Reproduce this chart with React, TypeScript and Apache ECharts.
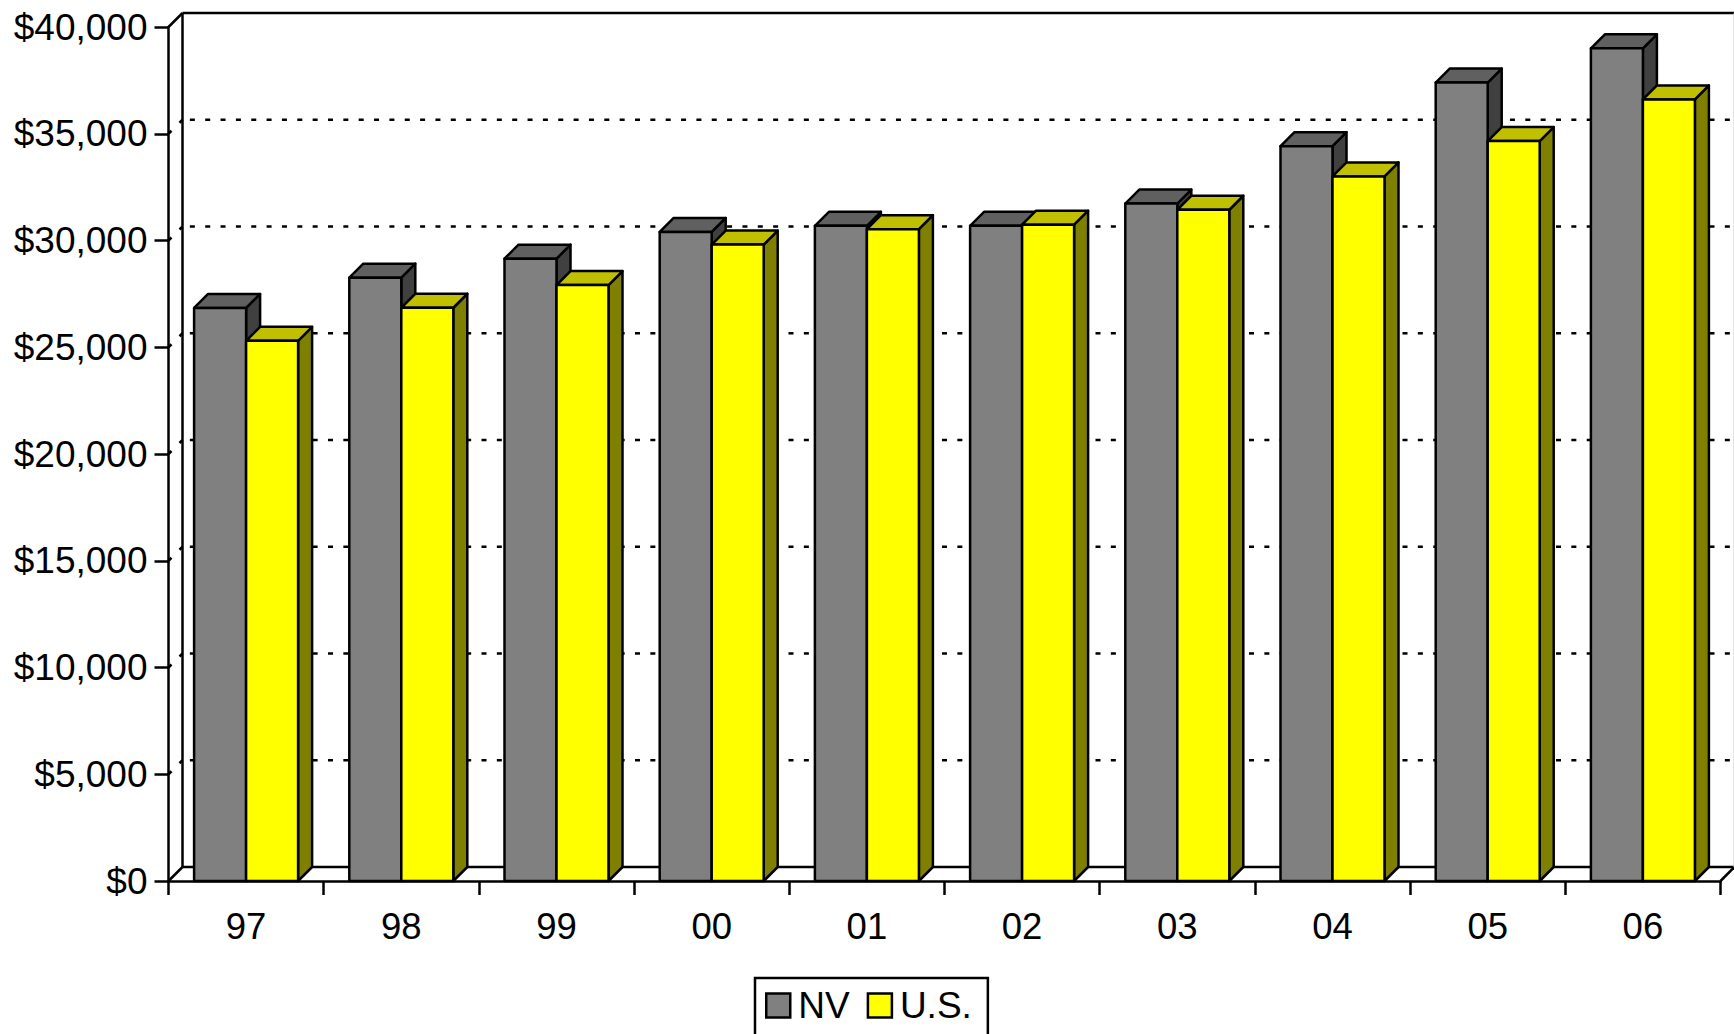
import React, { useEffect, useRef } from "react";
import * as echarts from "echarts";

const categories = ["97", "98", "99", "00", "01", "02", "03", "04", "05", "06"];
const nvValues = [26840, 28260, 29150, 30400, 30690, 30690, 31730, 34420, 37400, 39000];
const usValues = [25300, 26850, 27910, 29810, 30530, 30740, 31440, 33000, 34660, 36610];
const gridValues = [5000, 10000, 15000, 20000, 25000, 30000, 35000];
const FONT = "Liberation Sans";
const DEPTH = 14;
const BAR = 52;
const LW = 2.5;

function barRender(side: number, front: string, top: string, right: string) {
  return (_p: any, api: any) => {
    const c = api.coord([api.value(0), api.value(1)]);
    const base = api.coord([api.value(0), 0]);
    const x0 = c[0] + (side < 0 ? -BAR : 0);
    const x1 = x0 + BAR;
    const y = c[1];
    const b = base[1];
    const stroke = { stroke: "#000", lineWidth: LW, lineJoin: "round" };
    return {
      type: "group",
      children: [
        { type: "polygon", shape: { points: [[x1, y], [x1 + DEPTH, y - DEPTH], [x1 + DEPTH, b - DEPTH], [x1, b]] }, style: { fill: right, ...stroke } },
        { type: "polygon", shape: { points: [[x0, y], [x0 + DEPTH, y - DEPTH], [x1 + DEPTH, y - DEPTH], [x1, y]] }, style: { fill: top, ...stroke } },
        { type: "rect", shape: { x: x0, y, width: BAR, height: b - y }, style: { fill: front, ...stroke } },
      ],
    };
  };
}

function frameRender(_p: any, api: any) {
  const band = api.size([1, 0])[0];
  const first = api.coord([0, 0]);
  const last = api.coord([categories.length - 1, 40000]);
  const xl = first[0] - band / 2;
  const yb = first[1];
  const xr = last[0] + band / 2;
  const yt = last[1];
  const line = (a: number, b: number, c: number, d: number, extra: any = {}) => ({
    type: "line",
    shape: { x1: a, y1: b, x2: c, y2: d },
    style: { stroke: "#000", lineWidth: LW, ...extra },
  });
  const dash = { lineDash: [5, 10.35], lineDashOffset: 8.1 };
  const children: any[] = [
    line(xl + DEPTH, yt - DEPTH, xl + DEPTH, yb - DEPTH),
    line(xl + DEPTH, yb - DEPTH, xr + DEPTH, yb - DEPTH),
    line(xl + DEPTH, yt - DEPTH, xr + DEPTH, yt - DEPTH),
    line(xl, yt, xl + DEPTH, yt - DEPTH),
    line(xl, yb, xl + DEPTH, yb - DEPTH),
    line(xr, yb, xr + DEPTH, yb - DEPTH),
    line(xr + DEPTH - 0.5, yt - DEPTH, xr + DEPTH - 0.5, yb - DEPTH, { stroke: "#c8c8c8", lineWidth: 1 }),
  ];
  gridValues.forEach((v) => {
    const p = api.coord([0, v]);
    children.push(line(xl + DEPTH, p[1] - DEPTH, xr + DEPTH, p[1] - DEPTH, dash));
    children.push(line(xl + 11, p[1] - 11, xl + DEPTH, p[1] - DEPTH));
    children.push(line(xl, p[1], xl + 3, p[1] - 3));
  });
  return { type: "group", children };
}

export default function App() {
  const ref = useRef<HTMLDivElement>(null);
  useEffect(() => {
    document.body.style.margin = "0";
    document.body.style.overflow = "hidden";
    const chart = echarts.init(ref.current!, undefined, { renderer: "svg" });
    chart.setOption({
      animation: false,
      backgroundColor: "#fff",
      textStyle: { fontFamily: FONT },
      grid: { left: 168.5, right: 13.5, top: 27, bottom: 153, containLabel: false },
      legend: {
        left: 755,
        top: 978,
        orient: "horizontal",
        padding: [9, 16, 40, 10],
        itemGap: 17,
        itemWidth: 24,
        itemHeight: 24,
        borderColor: "#000",
        borderWidth: 2.5,
        selectedMode: false,
        textStyle: { fontFamily: FONT, fontSize: 37, color: "#000", padding: [2, 0, 0, 3] },
        data: [
          { name: "NV", icon: "rect", itemStyle: { color: "#808080", borderColor: "#000", borderWidth: 2.5 } },
          { name: "U.S.", icon: "rect", itemStyle: { color: "#ffff00", borderColor: "#000", borderWidth: 2.5 } },
        ],
      },
      xAxis: {
        type: "category",
        data: categories,
        boundaryGap: true,
        axisLine: { show: true, lineStyle: { color: "#000", width: LW } },
        axisTick: { show: true, length: 14, lineStyle: { color: "#000", width: LW } },
        axisLabel: { color: "#000", fontFamily: FONT, fontSize: 36.5, margin: 27, interval: 0 },
        splitLine: { show: false },
      },
      yAxis: {
        type: "value",
        min: 0,
        max: 40000,
        interval: 5000,
        axisLine: { show: true, lineStyle: { color: "#000", width: LW } },
        axisTick: { show: true, length: 14, lineStyle: { color: "#000", width: LW } },
        axisLabel: {
          color: "#000",
          fontFamily: FONT,
          fontSize: 37,
          margin: 21,
          formatter: (v: number) => "$" + v.toLocaleString("en-US"),
        },
        splitLine: { show: false },
      },
      series: [
        { type: "custom", name: "frame", renderItem: frameRender, data: [[0, 0]], clip: false, silent: true, z: 1 },
        {
          type: "custom",
          name: "NV",
          renderItem: barRender(-1, "#808080", "#606060", "#404040"),
          data: nvValues.map((v, i) => [i, v]),
          encode: { x: 0, y: 1 },
          clip: false,
          z: 2,
          itemStyle: { color: "#808080" },
        },
        {
          type: "custom",
          name: "U.S.",
          renderItem: barRender(1, "#ffff00", "#c0c000", "#808000"),
          data: usValues.map((v, i) => [i, v]),
          encode: { x: 0, y: 1 },
          clip: false,
          z: 3,
          itemStyle: { color: "#ffff00" },
        },
      ],
    });
    return () => chart.dispose();
  }, []);
  return <div ref={ref} style={{ position: "absolute", left: 0, top: 0, width: 1734, height: 1034 }} />;
}
